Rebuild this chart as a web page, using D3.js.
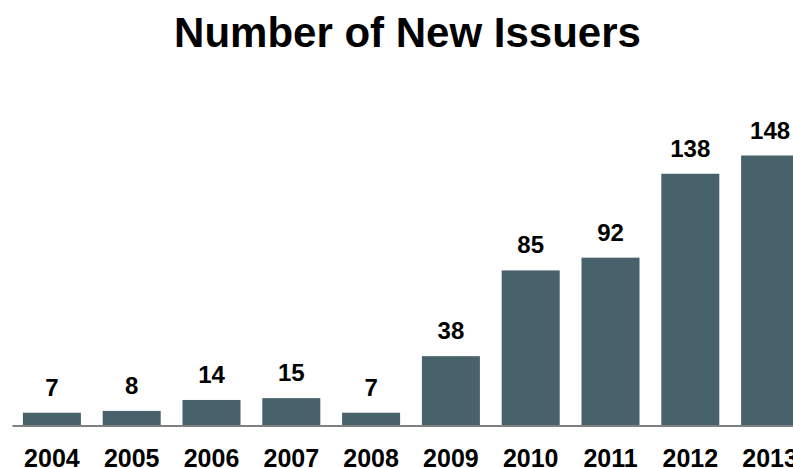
<!DOCTYPE html>
<html>
<head>
<meta charset="utf-8">
<script src="https://cdn.jsdelivr.net/npm/d3@7"></script>
<style>
  body { margin: 0; background: #fff; }
  svg { display: block; font-family: "Liberation Sans", Arial, sans-serif; }
</style>
</head>
<body>
<svg id="svg" width="793" height="468"></svg>
<script>
var years = ["2004", "2005", "2006", "2007", "2008", "2009", "2010", "2011", "2012", "2013"];
var issuers = [7, 8, 14, 15, 7, 38, 85, 92, 138, 148];

var svg = d3.select("#svg");

//////// SCALES //////////
var x = d3.scaleBand()
    .domain(years)
    .range([12, 810])
    .paddingInner(0.273)
    .paddingOuter(0.1365);

var y = d3.scaleLinear()
    .domain([0, 148])
    .range([425.5, 155.5]);

//////// TITLE //////////
svg.append("text")
    .attr("x", 407.5)
    .attr("y", 47)
    .attr("text-anchor", "middle")
    .style("font-size", "42px")
    .style("font-weight", "bold")
    .text("Number of New Issuers");

//////// BARS //////////
svg.selectAll("rect.bar").data(years).enter()
    .append("rect")
    .attr("class", "bar")
    .attr("x", function(d) { return x(d); })
    .attr("width", x.bandwidth())
    .attr("y", function(d, i) { return y(issuers[i]); })
    .attr("height", function(d, i) { return y(0) - y(issuers[i]); })
    .attr("fill", "#47626b");

// value labels
svg.selectAll("text.val").data(years).enter()
    .append("text")
    .attr("class", "val")
    .attr("x", function(d) { return x(d) + x.bandwidth() / 2; })
    .attr("y", function(d, i) { return y(issuers[i]) - 17; })
    .attr("text-anchor", "middle")
    .style("font-size", "24px")
    .style("font-weight", "bold")
    .text(function(d, i) { return issuers[i]; });

//////// AXIS //////////
var axis = svg.append("g")
    .attr("transform", "translate(0," + y(0) + ")")
    .call(d3.axisBottom(x).tickSize(0).tickSizeOuter(0));

axis.select(".domain")
    .attr("stroke", "#808080")
    .attr("stroke-width", 2);

axis.selectAll("text")
    .attr("y", 41)
    .attr("dy", null)
    .attr("fill", "#000")
    .style("font-family", "'Liberation Sans', Arial, sans-serif")
    .style("font-size", "25px")
    .style("font-weight", "bold");
</script>
</body>
</html>
